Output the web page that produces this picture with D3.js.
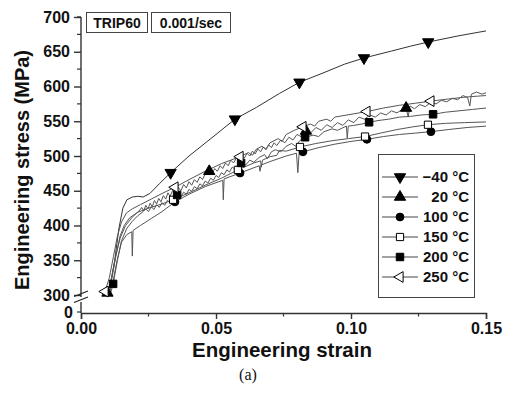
<!DOCTYPE html>
<html>
<head>
<meta charset="utf-8">
<script src="https://cdn.jsdelivr.net/npm/d3@7"></script>
<style>
  body { margin: 0; background: #fff; }
  text { font-family: "Liberation Sans", Arial, sans-serif; }
</style>
</head>
<body>
<div id="chart"></div>
<script>
//Data///////////////////////////////////////////////////////////////////////////////////////////

// strain, stress (MPa)
var curveM40 = [[0.0095,303],[0.0110,318],[0.0125,350],[0.0140,395],[0.0155,425],[0.0170,437],[0.0190,441],
  [0.0210,442],[0.0230,441],[0.0255,446],[0.0290,460],[0.0332,476],[0.040,500],[0.050,531],[0.057,553],
  [0.065,570],[0.0735,590],[0.0809,606],[0.090,620],[0.0975,632],[0.1048,641],[0.115,651],[0.122,658],
  [0.1286,664],[0.140,673],[0.150,680]];

var curve20 = [[0.0098,303],[0.0112,322],[0.0128,355],[0.0145,382],[0.0165,400],[0.019,412],[0.0215,421],
  [0.0225,426],[0.0232,421],[0.0240,429],[0.0248,424],[0.0256,432],[0.0264,427],[0.0272,436],[0.0280,431],
  [0.0288,439],[0.0296,434],[0.0305,443],[0.0314,438],[0.0322,447],[0.0330,442],[0.0340,451],[0.0350,446],
  [0.0360,455],[0.0370,450],[0.0380,459],[0.0390,454],[0.0400,463],[0.0410,458],[0.0420,466],[0.0430,462],
  [0.0440,470],[0.0450,466],[0.0460,474],[0.0475,478],[0.0485,474],[0.0495,482],[0.0505,478],[0.0515,486],
  [0.0525,482],[0.0535,490],[0.0545,486],[0.0555,494],[0.0565,490],[0.0575,497],[0.0585,493],[0.0595,501],
  [0.0605,497],[0.0615,504],[0.0625,500],[0.0635,507],[0.0645,503],[0.0655,510],[0.0665,506],[0.0675,513],
  [0.0685,509],[0.0695,516],[0.0705,512],[0.0715,519],[0.0725,515],[0.0740,523],[0.0755,519],[0.0770,527],
  [0.0785,523],[0.0800,531],[0.0815,528],[0.0833,536],[0.0850,533],[0.0870,541],[0.0890,537],[0.0910,545],
  [0.0930,541],[0.0950,548],[0.0970,544],[0.0990,552],[0.1010,548],[0.1030,556],[0.1050,553],[0.1070,559],
  [0.1090,556],[0.1110,562],[0.1130,559],[0.1150,565],[0.1170,562],[0.1190,567],[0.1204,569],[0.1212,556],
  [0.1218,572],[0.1235,568],[0.1255,574],[0.1275,571],[0.1295,577],[0.1315,575],[0.1335,580],[0.1355,578],
  [0.1375,583],[0.1395,581],[0.1415,587],[0.1432,584],[0.1440,572],[0.1446,589],[0.1465,592],[0.1485,589],
  [0.150,591]];

var curve100 = [[0.0105,303],[0.012,322],[0.0135,352],[0.015,376],[0.017,387],[0.0188,391],[0.0190,356],
  [0.0193,393],[0.022,400],[0.026,410],[0.030,420],[0.0348,434],[0.040,445],[0.046,456],[0.0525,465],
  [0.0527,437],[0.0530,467],[0.0589,475.5],[0.0660,486],[0.0663,478],[0.0667,487],[0.070,492],[0.076,500],
  [0.0798,504],[0.0803,476],[0.0808,505],[0.0822,506],[0.088,512],[0.094,517],[0.100,521],[0.1059,524],
  [0.112,528],[0.118,531],[0.124,533],[0.1296,535],[0.136,538],[0.143,541],[0.150,543]];

var curve150 = [[0.0100,303],[0.0115,325],[0.013,358],[0.0145,385],[0.016,400],[0.018,411],[0.021,419],
  [0.025,425],[0.030,431],[0.0341,437],[0.040,447],[0.046,458],[0.052,468],[0.0581,480],[0.064,490],
  [0.0665,493],[0.0668,484],[0.0672,494],[0.070,499],[0.0725,501],[0.0735,508],[0.076,507],[0.0811,513],
  [0.087,518],[0.093,522],[0.099,525],[0.1052,528],[0.111,533],[0.117,538],[0.123,542],[0.1285,545],
  [0.135,547],[0.142,548],[0.150,549]];

var curve200 = [[0.0110,303],[0.0119,316],[0.0135,350],[0.015,378],[0.017,396],[0.019,406],[0.021,414],
  [0.023,420],[0.024,424],[0.025,420],[0.026,427],[0.027,423],[0.028,430],[0.029,426],[0.030,433],
  [0.031,429],[0.032,436],[0.033,433],[0.034,440],[0.0356,444],[0.037,441],[0.038,448],[0.039,445],
  [0.040,452],[0.041,449],[0.042,456],[0.043,453],[0.044,460],[0.045,457],[0.046,464],[0.047,461],
  [0.048,468],[0.049,465],[0.050,472],[0.051,469],[0.052,476],[0.053,473],[0.054,480],[0.055,477],
  [0.056,484],[0.057,481],[0.058,487],[0.0593,490],[0.061,487],[0.0625,494],[0.064,491],[0.066,498],
  [0.068,502],[0.069,496],[0.0705,506],[0.072,509],[0.074,506],[0.076,514],[0.078,518],[0.0795,514],
  [0.081,522],[0.083,527],[0.086,530],[0.088,528],[0.090,535],[0.093,539],[0.095,537],[0.0983,543],
  [0.0986,526],[0.0990,543],[0.101,544],[0.104,546],[0.1067,548.5],[0.110,551],[0.114,553],[0.118,556],
  [0.122,557],[0.126,559],[0.1304,560],[0.135,563],[0.140,565],[0.145,567],[0.150,569]];

var curve250 = [[0.0089,305],[0.0105,325],[0.012,355],[0.0135,385],[0.015,405],[0.0168,418],[0.019,424],
  [0.022,430],[0.026,438],[0.030,446],[0.0348,455],[0.040,466],[0.046,478],[0.052,489],[0.0589,499],
  [0.062,505],[0.0635,501],[0.065,510],[0.067,514],[0.0685,510],[0.070,519],[0.073,525],[0.0745,521],
  [0.076,531],[0.079,537],[0.0822,542],[0.085,546],[0.0865,543],[0.088,550],[0.091,553],[0.0925,550],
  [0.094,556],[0.097,558],[0.100,560],[0.106,564],[0.112,569],[0.118,573],[0.124,576],[0.1296,579],
  [0.136,582],[0.143,585],[0.150,587]];

// marker positions on each curve
var marksM40 = [[0.0332,476],[0.057,553],[0.0809,606],[0.1048,641],[0.1286,664]];
var marks20 = [[0.0098,303],[0.0475,478],[0.0833,536],[0.1204,569]];
var marks100 = [[0.0348,434],[0.0589,475.5],[0.0822,506],[0.1059,524],[0.1296,535]];
var marks150 = [[0.0341,437],[0.0581,480],[0.0811,513],[0.1052,528],[0.1285,545]];
var marks200 = [[0.0119,316],[0.0356,444],[0.0593,490],[0.083,527],[0.1067,548.5],[0.1304,560]];
var marks250 = [[0.0089,305],[0.0348,455],[0.0589,499],[0.0822,542],[0.1059,564],[0.1296,579]];

var legendNames = ["\u221240 \u00b0C", "20 \u00b0C", "100 \u00b0C", "150 \u00b0C", "200 \u00b0C", "250 \u00b0C"];
var xTicks = [0, 0.05, 0.10, 0.15];
var xMinor = [0.025, 0.075, 0.125];
var yTicks = [300, 350, 400, 450, 500, 550, 600, 650, 700];
var yMinor = [325, 375, 425, 475, 525, 575, 625, 675];
var tagLabels = ["TRIP60", "0.001/sec"];

//Setup//////////////////////////////////////////////////////////////////////////////////////////

var W = 507, H = 393;
var svg = d3.select("#chart").append("svg")
  .attr("width", W).attr("height", H);

var x = d3.scaleLinear().domain([0, 0.15]).range([81, 486]);
var y = d3.scaleLinear().domain([300, 700]).range([295, 17]);
var axisY0 = 313;   // baseline (0) below the break

var series = [
  { pts: curveM40, marks: marksM40, sym: d3.symbolTriangle, rot: 180, fill: "#000", size: 55 },
  { pts: curve20,  marks: marks20,  sym: d3.symbolTriangle, rot: 0,   fill: "#000", size: 55 },
  { pts: curve100, marks: marks100, sym: d3.symbolCircle,   rot: 0,   fill: "#000", size: 48 },
  { pts: curve150, marks: marks150, sym: d3.symbolSquare,   rot: 0,   fill: "#fff", size: 52 },
  { pts: curve200, marks: marks200, sym: d3.symbolSquare,   rot: 0,   fill: "#000", size: 56 },
  { pts: curve250, marks: marks250, sym: d3.symbolTriangle, rot: -90, fill: "#fff", size: 50 }
];

//Axes///////////////////////////////////////////////////////////////////////////////////////////

var axisColor = "#333";

// x axis
var gx = svg.append("g").attr("transform", "translate(0," + axisY0 + ")")
  .call(d3.axisBottom(x).tickValues(xTicks).tickFormat(d3.format(".2f")).tickSize(6).tickPadding(4));
gx.selectAll("text").style("font-size", "16px").style("font-weight", "bold").attr("fill", "#111");
gx.selectAll("line, path").attr("stroke", axisColor).attr("stroke-width", 1.4);
gx.append("g").selectAll("line").data(xMinor).enter().append("line")
  .attr("x1", function(d) { return x(d); }).attr("x2", function(d) { return x(d); })
  .attr("y1", 0).attr("y2", 3.5)
  .attr("stroke", axisColor).attr("stroke-width", 1.2);

// y axis (upper part, above the break)
var gy = svg.append("g").attr("transform", "translate(" + x(0) + ",0)")
  .call(d3.axisLeft(y).tickValues(yTicks).tickSize(7).tickPadding(4));
gy.select(".domain").remove();
gy.selectAll("text").style("font-size", "16px").style("font-weight", "bold").attr("fill", "#111");
gy.selectAll("line").attr("stroke", axisColor).attr("stroke-width", 1.4);
gy.append("line").attr("x1", 0).attr("x2", 0).attr("y1", y(700)).attr("y2", y(300) + 2)
  .attr("stroke", axisColor).attr("stroke-width", 1.4);
gy.append("line").attr("x1", 0).attr("x2", -4).attr("y1", y(700)).attr("y2", y(700))
  .attr("stroke", axisColor).attr("stroke-width", 1.4);
gy.append("g").selectAll("line").data(yMinor).enter().append("line")
  .attr("x1", 0).attr("x2", -4)
  .attr("y1", function(d) { return y(d); }).attr("y2", function(d) { return y(d); })
  .attr("stroke", axisColor).attr("stroke-width", 1.2);

// lower part with the zero and the break marks
gy.append("line").attr("x1", 0).attr("x2", 0).attr("y1", 302).attr("y2", axisY0)
  .attr("stroke", axisColor).attr("stroke-width", 1.4);
gy.append("line").attr("x1", 0).attr("x2", -4).attr("y1", axisY0 - 1).attr("y2", axisY0 - 1)
  .attr("stroke", axisColor).attr("stroke-width", 1.2);
gy.append("text").attr("x", -8).attr("y", axisY0).attr("dy", "0.32em")
  .attr("text-anchor", "end").style("font-size", "16px").style("font-weight", "bold")
  .attr("fill", "#111").text("0");
[0, 6].forEach(function(off) {
  gy.append("line")
    .attr("x1", -7).attr("y1", 296.5 + off).attr("x2", 7).attr("y2", 291 + off)
    .attr("stroke", "#222").attr("stroke-width", 1.3);
});

// axis titles
svg.append("text")
  .attr("x", 282).attr("y", 357)
  .attr("text-anchor", "middle")
  .style("font-size", "20.5px").style("font-weight", "bold").attr("fill", "#111")
  .text("Engineering strain");

svg.append("text")
  .attr("transform", "translate(29,170) rotate(-90)")
  .attr("text-anchor", "middle")
  .style("font-size", "20px").style("font-weight", "bold").attr("fill", "#111")
  .text("Engineering stress (MPa)");

svg.append("text")
  .attr("x", 248).attr("y", 380)
  .attr("text-anchor", "middle")
  .style("font-family", "'Liberation Serif', 'Times New Roman', serif")
  .style("font-size", "16px").attr("fill", "#111")
  .text("(a)");

//Curves/////////////////////////////////////////////////////////////////////////////////////////

var line = d3.line()
  .x(function(d) { return x(d[0]); })
  .y(function(d) { return y(d[1]); });

svg.append("g").selectAll("path")
  .data(series)
  .enter().append("path")
    .attr("d", function(s) { return line(s.pts); })
    .attr("fill", "none")
    .attr("stroke", function(s, i) { return i === 0 ? "#333" : "#555"; })
    .attr("stroke-width", 1)
    .attr("stroke-linejoin", "round");

series.forEach(function(s) {
  svg.append("g").selectAll("path")
    .data(s.marks)
    .enter().append("path")
      .attr("d", d3.symbol().type(s.sym).size(s.size))
      .attr("transform", function(d) {
        return "translate(" + x(d[0]) + "," + y(d[1]) + ") rotate(" + s.rot + ")";
      })
      .attr("fill", s.fill)
      .attr("stroke", "#000")
      .attr("stroke-width", 1);
});

//Tags & Legend//////////////////////////////////////////////////////////////////////////////////

var tagX = [86, 151], tagW = [61, 79];
tagLabels.forEach(function(t, i) {
  svg.append("rect")
    .attr("x", tagX[i] + 0.5).attr("y", 12.5)
    .attr("width", tagW[i]).attr("height", 20)
    .attr("fill", "#fff").attr("stroke", "#444").attr("stroke-width", 1);
  svg.append("text")
    .attr("x", tagX[i] + tagW[i] / 2 + 0.5).attr("y", 27.5)
    .attr("text-anchor", "middle")
    .style("font-size", "14px").style("font-weight", "bold").attr("fill", "#111")
    .text(t);
});

svg.append("rect")
  .attr("x", 378.5).attr("y", 154.5)
  .attr("width", 96).attr("height", 143)
  .attr("fill", "#fff").attr("stroke", "#444").attr("stroke-width", 1);

var legend = svg.selectAll(".legend")
  .data(series)
  .enter().append("g")
  .attr("class", "legend")
  .attr("transform", function(d, i) { return "translate(0," + (177 + i * 20) + ")"; });

legend.append("line")
  .attr("x1", 382).attr("x2", 418).attr("y1", 0).attr("y2", 0)
  .attr("stroke", "#444").attr("stroke-width", 1);

legend.append("path")
  .attr("d", function(s) { return d3.symbol().type(s.sym).size(s.size)(); })
  .attr("transform", function(s) { return "translate(400,0) rotate(" + s.rot + ")"; })
  .attr("fill", function(s) { return s.fill; })
  .attr("stroke", "#000").attr("stroke-width", 1);

legend.append("text")
  .attr("x", 469).attr("y", 0).attr("dy", "0.35em")
  .attr("text-anchor", "end")
  .style("font-size", "15px").style("font-weight", "bold").attr("fill", "#111")
  .text(function(d, i) { return legendNames[i]; });
</script>
</body>
</html>
